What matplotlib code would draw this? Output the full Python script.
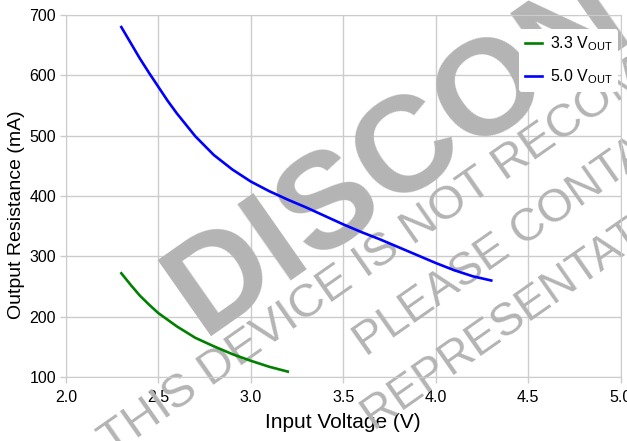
import numpy as np
import matplotlib
matplotlib.use('Agg')
import matplotlib.pyplot as plt

plt.rcParams['font.family'] = ['Liberation Sans', 'DejaVu Sans']

# input voltage (V) and output resistance
vin_33 = [2.3, 2.35, 2.4, 2.45, 2.5, 2.6, 2.7, 2.8, 2.9, 3.0, 3.1, 3.2]
res_33 = [272, 253, 235, 220, 206, 184, 165, 151, 138, 127, 117, 109]

vin_50 = [2.3, 2.35, 2.4, 2.45, 2.5, 2.55, 2.6, 2.7, 2.8, 2.9, 3.0, 3.1,
          3.2, 3.3, 3.4, 3.5, 3.6, 3.7, 3.8, 3.9, 4.0, 4.1, 4.2, 4.3]
res_50 = [680, 654, 628, 604, 581, 558, 537, 499, 468, 444, 424, 408,
          394, 381, 367, 353, 340, 328, 315, 302, 289, 277, 267, 260]

labels = ['3.3 V$_{\\mathregular{OUT}}$', '5.0 V$_{\\mathregular{OUT}}$']
colors = ['#008000', '#0000ff']

xticks = [2.0, 2.5, 3.0, 3.5, 4.0, 4.5, 5.0]
yticks = [100, 200, 300, 400, 500, 600, 700]

watermark = 'DISCONTINUED'
notice = ['THIS DEVICE IS NOT RECOMMENDED FOR NEW DESIGNS',
          'PLEASE CONTACT YOUR LOCAL SALES',
          'REPRESENTATIVE FOR ALTERNATIVES']

fig = plt.figure(figsize=(6.27, 4.41), dpi=100)
ax = fig.add_axes([0.105, 0.145, 0.885, 0.821])

grid_c = '#cccccc'
ax.set_axisbelow(True)
ax.grid(True, color=grid_c, linewidth=1.0)
for s in ax.spines.values():
    s.set_color(grid_c)
ax.tick_params(colors=grid_c, labelcolor='black', length=4, width=1,
               labelsize=11.5)
ax.tick_params(axis='x', pad=5)
ax.tick_params(axis='y', pad=3)

ax.plot(vin_33, res_33, color=colors[0], lw=1.9, label=labels[0], zorder=3)
ax.plot(vin_50, res_50, color=colors[1], lw=1.9, label=labels[1], zorder=3)

ax.set_xlim(2.0, 5.0)
ax.set_ylim(100, 700)
ax.set_xticks(xticks)
ax.set_xticklabels(['%.1f' % v for v in xticks])
ax.set_yticks(yticks)

ax.set_xlabel('Input Voltage (V)', fontsize=15, labelpad=6)
ax.set_ylabel('Output Resistance (mA)', fontsize=14)
ax.yaxis.set_label_coords(-0.074, 0.4475)

leg = ax.legend(loc='upper right', bbox_to_anchor=(0.995, 0.961),
                borderaxespad=0, frameon=True, fontsize=11.5,
                handlelength=1.1, handletextpad=0.45, labelspacing=0.9,
                borderpad=0.35)
leg.get_frame().set_edgecolor('none')
leg.get_frame().set_facecolor('white')
leg.get_frame().set_alpha(1.0)
leg.set_zorder(5)

# watermark, above grid but below curves
W, H = 627.0, 441.0
wm_c = '#b4b4b4'
ax.text(202 / W, 1 - 336 / H, watermark, transform=fig.transFigure,
        fontsize=98, fontweight='bold', color=wm_c, rotation=35,
        rotation_mode='anchor', ha='left', va='baseline', clip_on=False,
        zorder=1.5)
spots = [(112, 456, 34), (366, 357, 33), (374, 431, 33)]
for (px, py, fs), line in zip(spots, notice):
    ax.text(px / W, 1 - py / H, line, transform=fig.transFigure, fontsize=fs,
            color=wm_c, rotation=35, rotation_mode='anchor', ha='left',
            va='baseline', clip_on=False, zorder=1.5)

fig.savefig('out.png', dpi=100)
